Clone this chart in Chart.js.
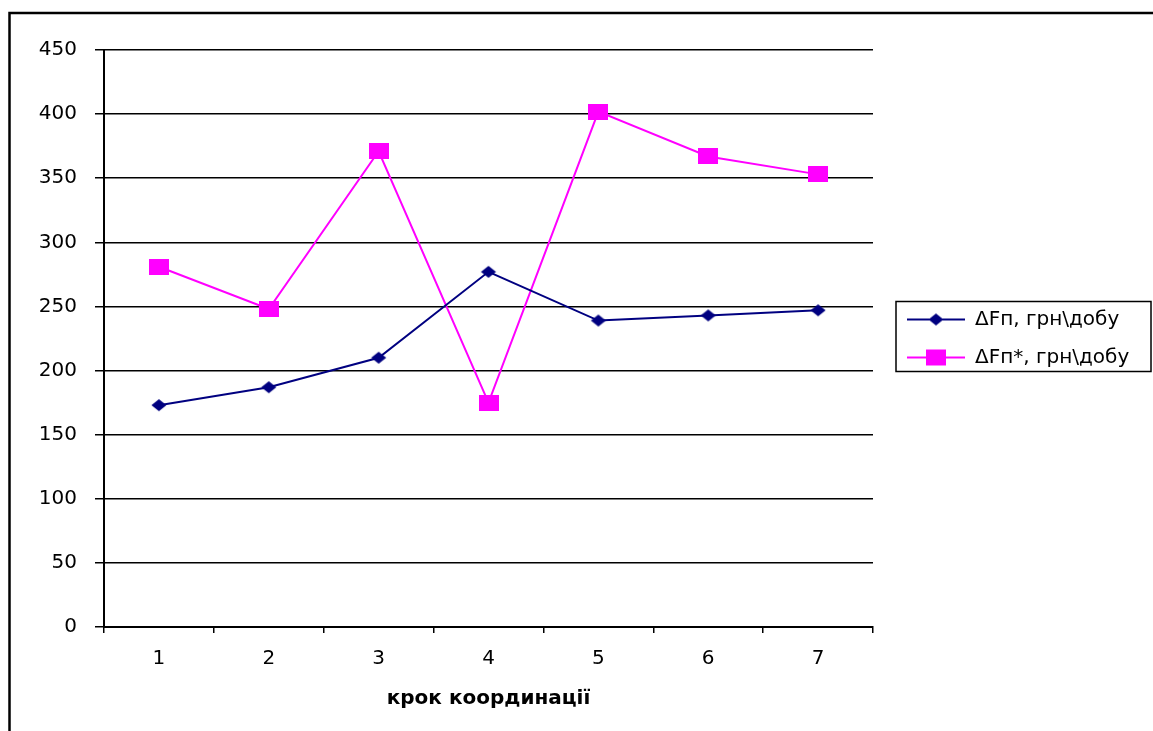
<!DOCTYPE html>
<html>
<head>
<meta charset="utf-8">
<script src="https://cdn.jsdelivr.net/npm/chart.js@4/dist/chart.umd.min.js"></script>
<style>
    html, body { margin: 0; padding: 0; background: #fff; }
    #wrap { width: 1153px; height: 731px; position: relative; }
</style>
</head>
<body>
<div id="wrap"><canvas id="myChart"></canvas></div>
<script>
    /* data */
    var steps = ['1', '2', '3', '4', '5', '6', '7'];
    var dFp = [173, 187, 210, 277, 239, 243, 247];
    var dFpStar = [281, 248, 371, 175, 402, 367, 353];
    var seriesNames = ['ΔFп, грн\\добу', 'ΔFп*, грн\\добу'];
    var axisTitle = 'крок координації';
    var yMin = 0, yMax = 450, yStep = 50;

    var navy = '#000080';
    var magenta = '#FF00FF';
    var fontFamily = "'DejaVu Sans', sans-serif";

    /* markers drawn into small canvases */
    function drawMark(g, kind, color, cx, cy) {
        g.fillStyle = color;
        if (kind === 'diamond') {
            g.beginPath();
            g.moveTo(cx, cy - 6);
            g.lineTo(cx + 7.5, cy);
            g.lineTo(cx, cy + 6);
            g.lineTo(cx - 7.5, cy);
            g.closePath();
            g.fill();
        } else {
            g.fillRect(cx - 10, cy - 8, 20, 16);
        }
    }

    function makeMarker(kind, color) {
        var c = document.createElement('canvas');
        c.width = 20; c.height = 16;
        drawMark(c.getContext('2d'), kind, color, 10, 8);
        return c;
    }

    function makeLegendMarker(kind, color) {
        var c = document.createElement('canvas');
        c.width = 74; c.height = 20;
        var g = c.getContext('2d');
        g.strokeStyle = color;
        g.lineWidth = 2;
        g.beginPath();
        g.moveTo(16, 10);
        g.lineTo(74, 10);
        g.stroke();
        drawMark(g, kind, color, 45, 10);
        return c;
    }

    var pointMarks = [makeMarker('diamond', navy), makeMarker('square', magenta)];
    var legendMarks = [makeLegendMarker('diamond', navy), makeLegendMarker('square', magenta)];

    /* outer frame + legend border + fixed legend width */
    var framePlugin = {
        id: 'frame',
        beforeUpdate: function(chart){
            var lg = chart.legend;
            if (lg && !lg._fixedWidth) {
                var fit = lg.fit;
                lg.fit = function(){
                    fit.call(this);
                    this.width = 280;
                };
                lg._fixedWidth = true;
            }
        },
        afterDraw: function(chart){
            var ctx = chart.ctx;
            ctx.save();
            ctx.strokeStyle = '#000';
            ctx.lineWidth = 2.5;
            ctx.strokeRect(9.5, 13, chart.width + 20, chart.height + 20);

            var lg = chart.legend;
            var hb = lg.legendHitBoxes;
            if (hb && hb.length) {
                var top = hb[0].top + hb[0].height / 2 - 18;
                var last = hb[hb.length - 1];
                var bottom = last.top + last.height / 2 + 14;
                ctx.lineWidth = 1.5;
                ctx.strokeRect(lg.left + 23, top, chart.width - lg.left - 25, bottom - top);
            }
            ctx.restore();
        }
    };

    var ctx = document.getElementById('myChart');
    var myChart = new Chart(ctx, {
        type: 'line',
        data: {
            labels: steps,
            datasets: [{
                label: seriesNames[0],
                data: dFp,
                borderColor: navy,
                backgroundColor: navy,
                borderWidth: 2,
                pointStyle: pointMarks[0],
                tension: 0
            }, {
                label: seriesNames[1],
                data: dFpStar,
                borderColor: magenta,
                backgroundColor: magenta,
                borderWidth: 2,
                pointStyle: pointMarks[1],
                tension: 0
            }]
        },
        options: {
            responsive: true,
            maintainAspectRatio: false,
            animation: false,
            layout: {
                padding: { top: 50, left: 0, right: 0, bottom: 0 }
            },
            scales: {
                x: {
                    offset: true,
                    ticks: {
                        color: '#000',
                        padding: 14,
                        font: { family: fontFamily, size: 20 }
                    },
                    grid: {
                        offset: true,
                        drawOnChartArea: false,
                        color: '#000',
                        lineWidth: 1.5,
                        tickLength: 6
                    },
                    border: { color: '#000', width: 2 },
                    title: {
                        display: true,
                        text: axisTitle,
                        color: '#000',
                        font: { family: fontFamily, size: 20, weight: 'bold' },
                        padding: { top: 4, bottom: 20 }
                    },
                    afterFit: function(scale){ scale.height = 104; }
                },
                y: {
                    min: yMin,
                    max: yMax,
                    ticks: {
                        stepSize: yStep,
                        color: '#000',
                        padding: 18,
                        font: { family: fontFamily, size: 20 }
                    },
                    grid: {
                        color: '#000',
                        lineWidth: 1.5,
                        tickLength: 9
                    },
                    border: { color: '#000', width: 2 },
                    afterFit: function(scale){ scale.width = 104; }
                }
            },
            plugins: {
                tooltip: { enabled: false },
                legend: {
                    position: 'right',
                    align: 'center',
                    fullSize: false,
                    labels: {
                        usePointStyle: true,
                        pointStyleWidth: 74,
                        padding: 18,
                        color: '#000',
                        font: { family: fontFamily, size: 20 },
                        generateLabels: function(chart){
                            var items = Chart.defaults.plugins.legend.labels.generateLabels(chart);
                            items.forEach(function(item, i){
                                item.pointStyle = legendMarks[i];
                            });
                            return items;
                        }
                    }
                }
            }
        },
        plugins: [framePlugin]
    });
</script>
</body>
</html>
